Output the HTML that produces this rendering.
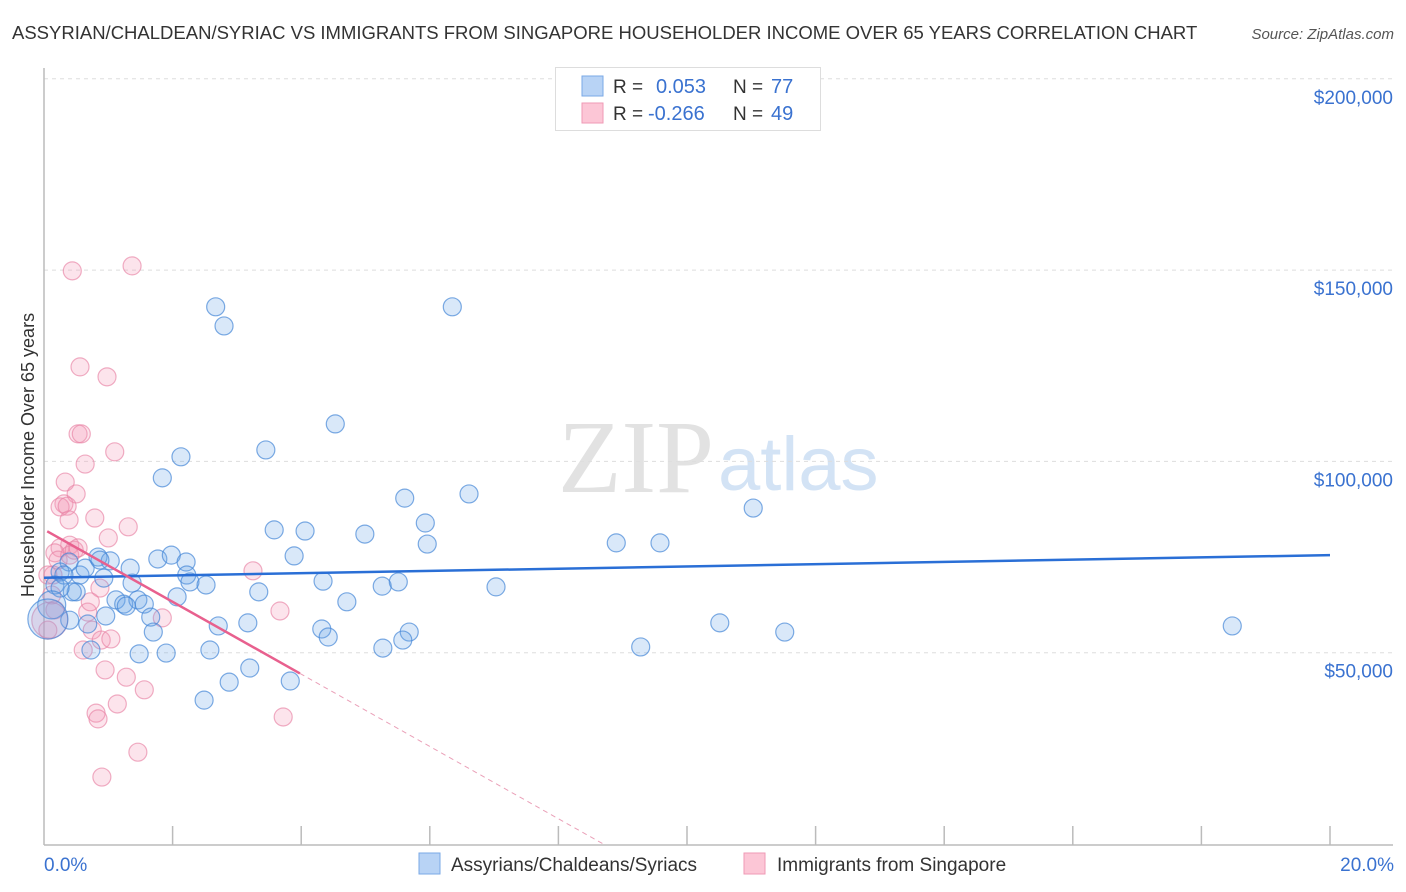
<!DOCTYPE html>
<html><head><meta charset="utf-8"><style>
body{margin:0;background:#fff;font-family:"Liberation Sans",sans-serif;}
svg{display:block}
</style></head><body>
<svg id="chart" width="1406" height="892" xmlns="http://www.w3.org/2000/svg">
<text x="12" y="39" font-size="18.5" fill="#333">ASSYRIAN/CHALDEAN/SYRIAC VS IMMIGRANTS FROM SINGAPORE HOUSEHOLDER INCOME OVER 65 YEARS CORRELATION CHART</text>
<text x="1394" y="39" font-size="15" font-style="italic" fill="#555" text-anchor="end">Source: ZipAtlas.com</text>
<text x="714" y="492" font-size="104" font-family="Liberation Serif,serif" fill="#e2e2e2" text-anchor="end">ZIP</text>
<text x="718" y="490" font-size="76" fill="#d3e3f5">atlas</text>
<text transform="translate(34,455) rotate(-90)" font-size="18" fill="#333" text-anchor="middle">Householder Income Over 65 years</text>
<g id="grid"></g><g id="axes"></g><g id="pts"></g><g id="trend"></g>
<g>
<rect x="555.5" y="67.5" width="265" height="63" fill="#fff" stroke="#ddd"/>
<rect x="582" y="76" width="21" height="20" fill="#b8d3f5" stroke="#7aa8e6"/>
<rect x="582" y="103" width="21" height="20" fill="#fcc6d6" stroke="#ef9ab5"/>
<text x="613" y="93" font-size="19" fill="#333">R = </text><text x="656" y="93" font-size="20" fill="#3a72d0">0.053</text>
<text x="733" y="93" font-size="19" fill="#333">N = </text><text x="771" y="93" font-size="20" fill="#3a72d0">77</text>
<text x="613" y="120" font-size="19" fill="#333">R = </text><text x="648" y="120" font-size="20" fill="#3a72d0">-0.266</text>
<text x="733" y="120" font-size="19" fill="#333">N = </text><text x="771" y="120" font-size="20" fill="#3a72d0">49</text>
</g>
<g>
<rect x="419" y="853" width="21" height="21" fill="#b8d3f5" stroke="#7aa8e6"/>
<text x="451" y="871" font-size="19" fill="#333">Assyrians/Chaldeans/Syriacs</text>
<rect x="744" y="853" width="21" height="21" fill="#fcc6d6" stroke="#ef9ab5"/>
<text x="777" y="871" font-size="19" fill="#333">Immigrants from Singapore</text>
</g>
</svg>
<script>
const yTicks=[50,100,150,200];
const yTickLabels=["$50,000","$100,000","$150,000","$200,000"];
const xTickLabels=["0.0%","20.0%"];
const blueX=[2.67,2.80,6.35,4.53,2.13,3.45,1.84,5.61,6.61,11.03,5.93,3.58,4.06,4.99,5.96,8.90,9.58,1.77,1.98,2.21,0.84,1.03,1.34,0.39,0.25,0.56,0.93,1.37,2.22,2.27,2.52,3.89,4.34,5.26,5.51,7.03,2.07,3.34,4.71,1.12,1.24,1.46,1.56,1.28,0.50,0.44,0.96,1.66,0.68,1.70,2.71,3.17,4.32,4.42,5.68,10.51,11.52,18.48,0.73,1.48,1.90,2.58,5.27,5.58,9.28,3.20,2.88,3.83,2.49,0.17,0.31,0.25,0.64,0.87,0.40,0.12,0.06];
const blueY=[140.4,135.4,140.4,109.8,101.2,103.0,95.7,90.4,91.5,87.8,83.9,82.1,81.8,81.0,78.4,78.7,78.7,74.5,75.5,73.7,75.0,74.0,72.1,73.7,71.1,70.3,69.5,68.2,70.3,68.5,67.7,75.3,68.7,67.4,68.5,67.2,64.6,65.9,63.3,63.8,62.7,63.8,62.7,62.2,65.9,65.9,59.6,59.3,57.5,55.4,57.0,57.8,56.2,54.1,55.4,57.8,55.4,57.0,50.7,49.7,49.9,50.7,51.2,53.3,51.5,46.0,42.3,42.6,37.6,67.7,70.3,66.9,72.1,74.2,58.5,62.5,58.8];
const blueR=[9,9,9,9,9,9,9,9,9,9,9,9,9,9,9,9,9,9,9,9,9,9,9,9,9,9,9,9,9,9,9,9,9,9,9,9,9,9,9,9,9,9,9,9,9,9,9,9,9,9,9,9,9,9,9,9,9,9,9,9,9,9,9,9,9,9,9,9,9,9,9,9,9,9,9,14,20];
const pinkX=[0.44,1.37,0.56,0.98,0.53,0.58,1.10,0.64,0.33,0.50,0.31,0.25,0.36,0.39,0.79,1.00,1.31,0.40,0.25,0.17,0.22,0.40,0.47,0.14,0.06,0.12,0.17,0.06,0.68,0.75,0.89,1.04,0.61,3.25,3.67,1.84,0.95,1.28,1.56,1.14,0.81,0.84,1.46,3.72,0.90,0.53,0.87,0.72,0.09];
const pinkY=[149.8,151.1,124.7,122.1,107.2,107.2,102.5,99.3,94.6,91.5,88.9,88.1,88.3,84.7,85.2,80.0,82.9,78.1,77.4,76.1,74.2,75.5,76.8,70.3,70.3,65.1,61.2,55.9,60.6,55.9,53.3,53.6,50.7,71.4,60.9,59.1,45.5,43.6,40.3,36.6,34.2,32.7,24.0,33.2,17.5,77.4,66.9,63.3,58.5];
const pinkR=[9,9,9,9,9,9,9,9,9,9,9,9,9,9,9,9,9,9,9,9,9,9,9,9,9,9,9,9,9,9,9,9,9,9,9,9,9,9,9,9,9,9,9,9,9,9,9,9,18];
const blueTrend=[69.6,75.5];   // income (k) at 0% and 20%
const pinkTrend=[82.2,-9.45];  // intercept (k), slope per %
const pinkSolidEnd=3.98;

const NS="http://www.w3.org/2000/svg";
const X=v=>44+v/20*1286;
const Y=v=>844-v*3.826;
function mk(tag,attrs,parent){const e=document.createElementNS(NS,tag);for(const k in attrs)e.setAttribute(k,attrs[k]);document.getElementById(parent).appendChild(e);return e;}

yTicks.forEach((t,i)=>{
  const l=mk('line',{x1:44,x2:1393,y1:Y(t),y2:Y(t),stroke:'#ddd','stroke-dasharray':'4,4'},'grid');
  
  
  const tx=mk('text',{x:1393,y:Y(t)+25,'font-size':19,fill:'#3a72d0','text-anchor':'end'},'grid');
  tx.textContent=yTickLabels[i];
  
  
});
const ya=mk('line',{x1:44,x2:44,y1:68,y2:845,stroke:'#bbb','stroke-width':1.5},'axes');


const xa=mk('line',{x1:44,x2:1393,y1:845,y2:845,stroke:'#bbb','stroke-width':1.5},'axes');


for(let i=1;i<=10;i++){
  const t=mk('line',{x1:X(i*2),x2:X(i*2),y1:826,y2:845,stroke:'#bbb','stroke-width':1.5},'axes');
  
  
}
[[0,'start',44],[20,'end',1394]].forEach((d,i)=>{
  const t=mk('text',{x:d[2],y:871,'font-size':19,fill:'#3a72d0','text-anchor':d[1]},'axes');
  t.textContent=xTickLabels[i];
  
  
});
pinkX.forEach((v,i)=>{
  const c=mk('circle',{cx:X(v),cy:Y(pinkY[i]),r:pinkR[i],fill:'rgba(244,150,180,0.26)',stroke:'rgba(232,130,165,0.65)','stroke-width':1.2},'pts');
  
  
});
blueX.forEach((v,i)=>{
  const c=mk('circle',{cx:X(v),cy:Y(blueY[i]),r:blueR[i],fill:'rgba(110,165,230,0.26)',stroke:'rgba(70,135,215,0.7)','stroke-width':1.2},'pts');
  
  
});
const bt=mk('line',{x1:X(0),y1:Y(blueTrend[0]),x2:X(20),y2:Y(blueTrend[1]),stroke:'#2a6fd6','stroke-width':2.5},'trend');


const pf=v=>pinkTrend[0]+pinkTrend[1]*v;
const pzero=-pinkTrend[0]/pinkTrend[1];
const ps=mk('line',{x1:X(0.05),y1:Y(pf(0.05)),x2:X(pinkSolidEnd),y2:Y(pf(pinkSolidEnd)),stroke:'#e8608e','stroke-width':2.5},'trend');


const pd=mk('line',{x1:X(pinkSolidEnd),y1:Y(pf(pinkSolidEnd)),x2:X(pzero),y2:Y(0),stroke:'#eaa0b8','stroke-width':1,'stroke-dasharray':'5,4'},'trend');


</script>
</body></html>
